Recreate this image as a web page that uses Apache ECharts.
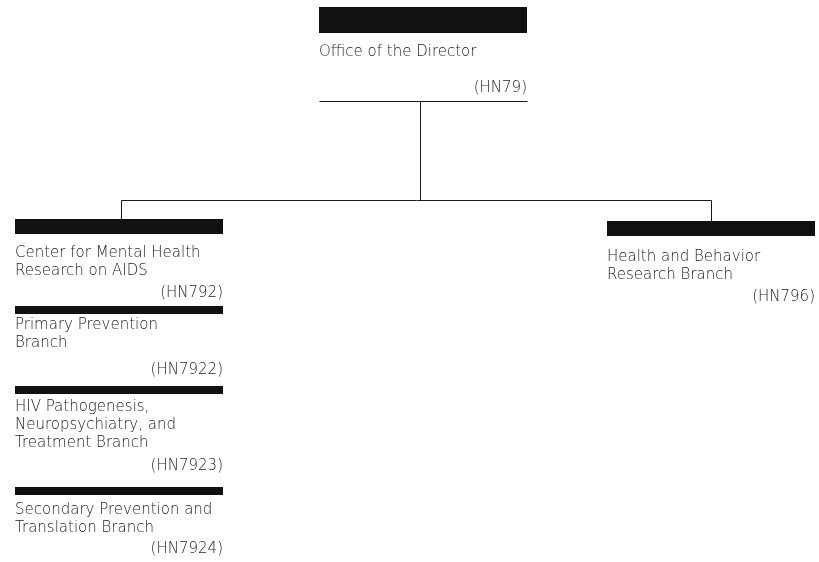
<!DOCTYPE html>
<html>
<head>
<meta charset="utf-8">
<script src="https://cdn.jsdelivr.net/npm/echarts@6/dist/echarts.min.js"></script>
<style>html,body{margin:0;padding:0;background:#fff}#c{width:819px;height:562px}</style>
</head>
<body>
<div id="c"></div>
<script>
// ---- data ----
const unitNames = [
  'Office of the Director',
  'Center for Mental Health\nResearch on AIDS',
  'Primary Prevention\nBranch',
  'HIV Pathogenesis,\nNeuropsychiatry, and\nTreatment Branch',
  'Secondary Prevention and\nTranslation Branch',
  'Health and Behavior\nResearch Branch'
];
const unitCodes = ['(HN79)', '(HN792)', '(HN7922)', '(HN7923)', '(HN7924)', '(HN796)'];
const unitParents = [-1, 0, 1, 1, 1, 0];

// ---- layout (axis units = pixels of the canvas) ----
const boxLeft   = [319, 15, 15, 15, 15, 607];
const boxWidth  = 208;
const barTop    = [7, 219, 306, 386, 487, 221];
const barHeight = [26, 15, 8, 8, 8, 15];
const textTop   = [43, 244, 316, 398, 501, 248];
const codeMid   = [88, 293, 370, 466, 549, 297];
const lineH = 18;

const FONT = '200 15px "DejaVu Sans"';
const TEXT_COLOR = '#222';
const LINE_COLOR = '#1a1a1a';

const busY = 200;
const ruleY = 101;
const stemX = 420;
const dropX = {1: 121, 5: 711};

const chart = echarts.init(document.getElementById('c'), null, {renderer: 'canvas'});

const nodeData = unitNames.map((n, i) => [i]);

const segData = [];
segData.push([boxLeft[0], ruleY, boxLeft[0] + boxWidth, ruleY]);
segData.push([stemX, ruleY, stemX, busY]);
const drops = Object.keys(dropX).map(Number);
segData.push([Math.min(...drops.map(d => dropX[d])), busY, Math.max(...drops.map(d => dropX[d])), busY]);
drops.forEach(d => segData.push([dropX[d], busY, dropX[d], barTop[d]]));

chart.setOption({
  animation: false,
  grid: {left: 0, right: 0, top: 0, bottom: 0},
  xAxis: {type: 'value', min: 0, max: 819, show: false},
  yAxis: {type: 'value', min: 0, max: 562, inverse: true, show: false},
  series: [
    {
      type: 'custom',
      coordinateSystem: 'cartesian2d',
      data: segData,
      renderItem: function (params, api) {
        const p1 = api.coord([api.value(0), api.value(1)]);
        const p2 = api.coord([api.value(2), api.value(3)]);
        return {
          type: 'line',
          shape: {x1: Math.round(p1[0]) + 0.5, y1: Math.round(p1[1]) + 0.5, x2: Math.round(p2[0]) + 0.5, y2: Math.round(p2[1]) + 0.5},
          style: {stroke: LINE_COLOR, lineWidth: 1}
        };
      }
    },
    {
      type: 'custom',
      coordinateSystem: 'cartesian2d',
      data: nodeData,
      renderItem: function (params, api) {
        const i = api.value(0);
        const tl = api.coord([boxLeft[i], barTop[i]]);
        const br = api.coord([boxLeft[i] + boxWidth, barTop[i] + barHeight[i]]);
        const tt = api.coord([boxLeft[i], textTop[i]]);
        const cm = api.coord([boxLeft[i] + boxWidth, codeMid[i]]);
        return {
          type: 'group',
          children: [
            {type: 'rect', shape: {x: tl[0], y: tl[1], width: br[0] - tl[0], height: br[1] - tl[1]}, style: {fill: '#111'}},
            {type: 'text', style: {text: unitNames[i], x: tt[0], y: tt[1], font: FONT, fill: TEXT_COLOR, lineHeight: lineH, verticalAlign: 'top', align: 'left'}},
            {type: 'text', style: {text: unitCodes[i], x: cm[0], y: cm[1], font: FONT, fill: TEXT_COLOR, verticalAlign: 'middle', align: 'right'}}
          ]
        };
      }
    }
  ]
});
</script>
</body>
</html>
